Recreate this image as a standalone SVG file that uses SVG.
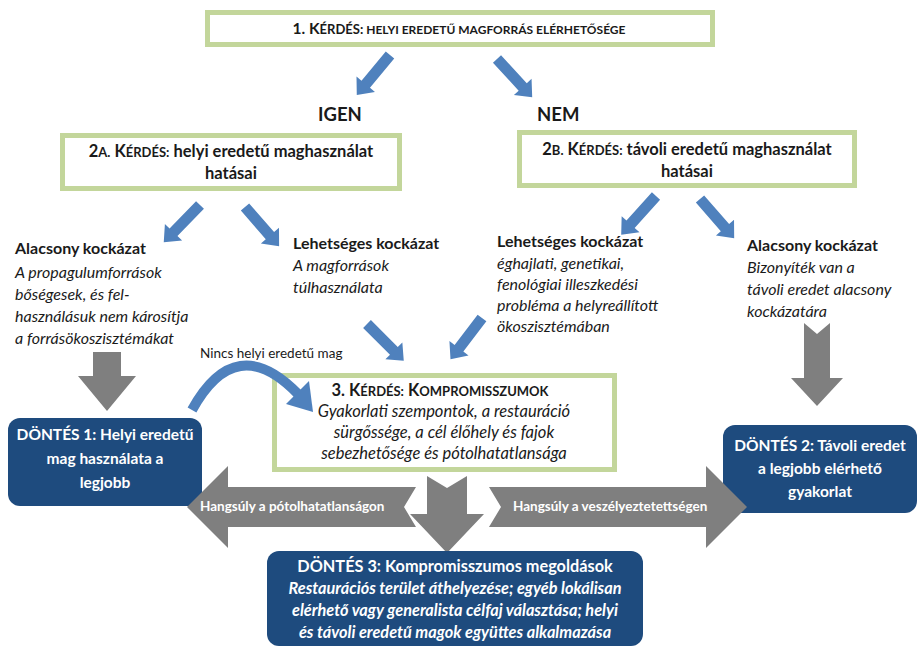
<svg xmlns="http://www.w3.org/2000/svg" width="921" height="649" viewBox="0 0 921 649">
<defs>
<style>
text{font-family:Lato,"Liberation Sans",sans-serif;fill:#1a1a1a}
.q{fill:#fff;stroke:#c3d69b;stroke-width:5}
.d{fill:#1e4b7e}
.b{font-weight:bold}
.i{font-style:italic}
.t{font-size:16px}
.ds{font-size:15.5px;font-weight:bold;fill:#fff}
.d3{font-size:16.3px;font-weight:bold;fill:#fff}
.g{fill:#7f7f7f}
.ba{fill:#4f81bd}
.hl{font-size:13.5px;font-weight:bold;fill:#fff}
</style>
<polygon id="ba" points="0,-5.5 38,-5.5 38,-12 52,0 38,12 38,5.5 0,5.5"/>
</defs>

<g id="q1">
<rect class="q" x="207.5" y="12.5" width="505" height="32"/>
<text x="459" y="34" text-anchor="middle" class="b"><tspan font-size="15.5">1. K</tspan><tspan font-size="13">ÉRDÉS:</tspan><tspan font-size="12"> HELYI EREDETŰ MAGFORRÁS ELÉRHETŐSÉGE</tspan></text>
</g>

<g id="lbl-igen"><text x="318" y="121" class="b" font-size="18.5">IGEN</text></g>
<g id="lbl-nem"><text x="537" y="121" class="b" font-size="18.5">NEM</text></g>

<g id="q2a">
<rect class="q" x="62.5" y="135.5" width="337" height="53"/>
<text x="231" y="157" text-anchor="middle" class="b" font-size="16.5"><tspan>2</tspan><tspan font-size="13">A.</tspan><tspan> K</tspan><tspan font-size="13">ÉRDÉS:</tspan><tspan> helyi eredetű maghasználat</tspan></text>
<text x="231" y="179" text-anchor="middle" class="b" font-size="16.5">hatásai</text>
</g>

<g id="q2b">
<rect class="q" x="519.5" y="132.5" width="335" height="53"/>
<text x="687" y="155" text-anchor="middle" class="b" font-size="16.5"><tspan>2</tspan><tspan font-size="13">B.</tspan><tspan> K</tspan><tspan font-size="13">ÉRDÉS:</tspan><tspan> távoli eredetű maghasználat</tspan></text>
<text x="687" y="177" text-anchor="middle" class="b" font-size="16.5">hatásai</text>
</g>

<g id="r1">
<text x="15" y="254" class="b t">Alacsony kockázat</text>
<text class="i t"><tspan x="15" y="278">A propagulumforrások</tspan><tspan x="15" y="300">bőségesek, és fel-</tspan><tspan x="15" y="322">használásuk nem károsítja</tspan><tspan x="15" y="344">a forrásökoszisztémákat</tspan></text>
</g>

<g id="r2">
<text x="293" y="249" class="b t">Lehetséges kockázat</text>
<text class="i t"><tspan x="293" y="271">A magforrások</tspan><tspan x="293" y="293">túlhasználata</tspan></text>
</g>

<g id="r3">
<text x="497" y="247" class="b t">Lehetséges kockázat</text>
<text class="i t"><tspan x="497" y="269">éghajlati, genetikai,</tspan><tspan x="497" y="290">fenológiai illeszkedési</tspan><tspan x="497" y="311">probléma a helyreállított</tspan><tspan x="497" y="332">ökoszisztémában</tspan></text>
</g>

<g id="r4">
<text x="747" y="251" class="b t">Alacsony kockázat</text>
<text class="i t"><tspan x="747" y="273">Bizonyíték van a</tspan><tspan x="747" y="295">távoli eredet alacsony</tspan><tspan x="747" y="317">kockázatára</tspan></text>
</g>

<g id="q3">
<rect class="q" x="274.5" y="375.5" width="340" height="94"/>
<text x="440" y="396" text-anchor="middle" class="b"><tspan font-size="16.5">3. K</tspan><tspan font-size="13">ÉRDÉS:</tspan><tspan font-size="16.5"> K</tspan><tspan font-size="13">OMPROMISSZUMOK</tspan></text>
<text text-anchor="middle" class="i" font-size="16.5"><tspan x="444" y="417">Gyakorlati szempontok, a restauráció</tspan><tspan x="444" y="438">sürgőssége, a cél élőhely és fajok</tspan><tspan x="444" y="459">sebezhetősége és pótolhatatlansága</tspan></text>
</g>

<g id="d1">
<rect class="d" x="8" y="418" width="194" height="88" rx="12"/>
<text text-anchor="middle" class="ds"><tspan x="105" y="440">DÖNTÉS 1: Helyi eredetű</tspan><tspan x="105" y="464">mag használata a</tspan><tspan x="105" y="488">legjobb</tspan></text>
</g>

<g id="d2">
<rect class="d" x="723" y="425" width="194" height="88" rx="12"/>
<text text-anchor="middle" class="ds"><tspan x="820" y="451">DÖNTÉS 2: Távoli eredet</tspan><tspan x="820" y="474">a legjobb elérhető</tspan><tspan x="820" y="497">gyakorlat</tspan></text>
</g>

<g id="connectors">
<g class="ba">
<use href="#ba" transform="translate(390,55) rotate(129.7)"/>
<use href="#ba" transform="translate(497,59) rotate(47.4)"/>
<use href="#ba" transform="translate(200,205) rotate(134.2)"/>
<use href="#ba" transform="translate(245,207) rotate(49)"/>
<use href="#ba" transform="translate(656,196) rotate(132)"/>
<use href="#ba" transform="translate(700,199) rotate(48.9)"/>
<use href="#ba" transform="translate(367,324) rotate(45)"/>
<use href="#ba" transform="translate(482,318) rotate(127.3)"/>
</g>
<path d="M192,410 Q236,330 298,394" fill="none" stroke="#4f81bd" stroke-width="10"/>
<polygon class="ba" points="286,404 309,381 313,412"/>
<text x="200" y="358" font-size="13.5">Nincs helyi eredetű mag</text>
<polygon class="g" points="93,352 121,352 121,376 136,376 107,411 78,376 93,376"/>
<polygon class="g" points="804,323 817,334 830,323 830,378 843,378 817,406 791,378 804,378"/>
<polygon class="g" points="416,487 404,507 416,527 228,527 228,548 187,507 228,466 228,487"/>
<polygon class="g" points="489,487 706,487 706,466 747,507 706,548 706,527 489,527 501,507"/>
<polygon class="g" points="427,476 447,488 467,476 467,514 484,514 447,553 410,514 427,514"/>
<text x="200" y="511" class="hl">Hangsúly a pótolhatatlanságon</text>
<text x="513" y="511" class="hl">Hangsúly a veszélyeztetettségen</text>
</g>

<g id="d3">
<rect class="d" x="267" y="551" width="376" height="95" rx="12"/>
<text text-anchor="middle" class="d3"><tspan x="455" y="572">DÖNTÉS 3: Kompromisszumos megoldások</tspan></text>
<text text-anchor="middle" class="d3 i"><tspan x="455" y="594">Restaurációs terület áthelyezése; egyéb lokálisan</tspan><tspan x="455" y="616">elérhető vagy generalista célfaj választása; helyi</tspan><tspan x="455" y="638">és távoli eredetű magok együttes alkalmazása</tspan></text>
</g>
</svg>
